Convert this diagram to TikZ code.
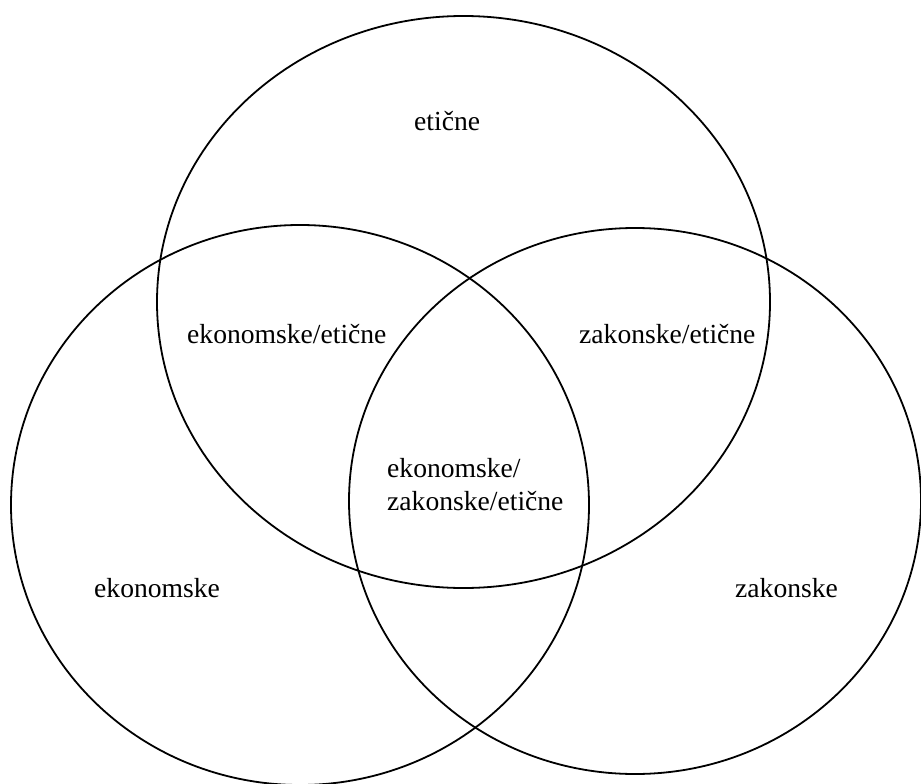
\documentclass[tikz,border=0pt]{standalone}
\usepackage{fontspec}
\setmainfont{Liberation Serif}
\begin{document}
\begin{tikzpicture}[x=1pt,y=-1pt,
  ring/.style={draw=black,line width=1.8pt},
  lbl/.style={inner sep=0pt,anchor=base west,font=\fontsize{27.6}{33}\selectfont}]
\useasboundingbox (0,0) rectangle (921,784);
% the three overlapping sets
\draw[ring] (463.5,302) ellipse [x radius=306.5pt, y radius=286pt];
\draw[ring] (300,505) ellipse [x radius=289pt, y radius=280pt];
\draw[ring] (635,501) ellipse [x radius=286pt, y radius=273pt];
% region labels
\node[lbl] (et) at (414,130) {etične};
\node[lbl] (ekEt) at (187,343) {ekonomske/etične};
\node[lbl] (zaEt) at (579,343) {zakonske/etične};
% base anchor of a two-line node sits on its last line
\node[lbl,align=left] (all) at (387,510) {ekonomske/\\zakonske/etične};
\node[lbl] (ek) at (94,597) {ekonomske};
\node[lbl] (za) at (735,597) {zakonske};
\end{tikzpicture}
\end{document}
